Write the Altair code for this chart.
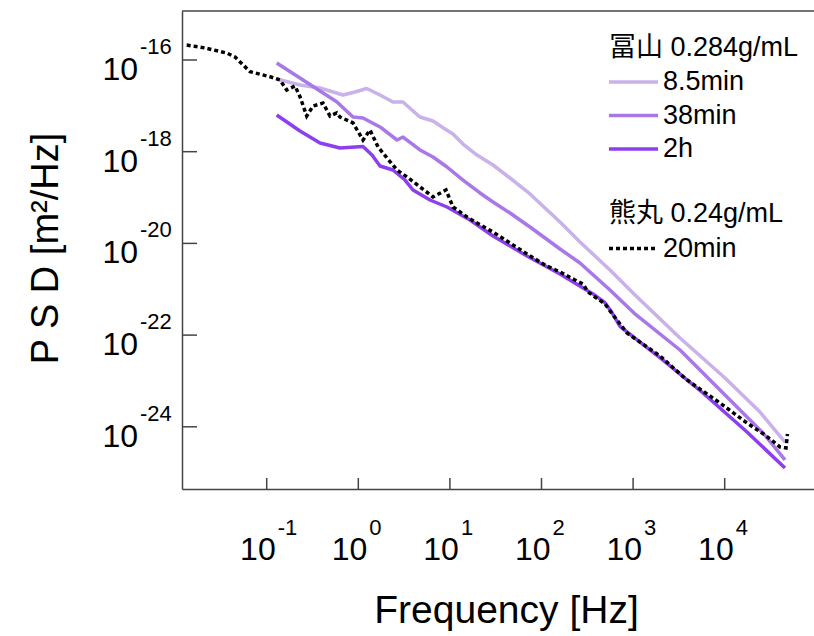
import altair as alt
import pandas as pd

# ---------------- data ----------------
# 冨山 0.284 g/mL
freq_8_5min = [0.1286, 0.2309, 0.382, 0.6808, 0.9204, 1.235, 1.726, 2.392, 3.076, 3.956,
               4.716, 6.541, 8.841, 10.81, 13.9, 19.76, 29.55, 45.31, 74.9, 159.2,
               263.2, 559.4, 1023, 3251, 10080, 24290, 45530]
psd_8_5min = [3.85e-17, 2.85e-17, 2.45e-17, 1.72e-17, 2.00e-17, 2.39e-17, 1.72e-17, 1.21e-17, 1.21e-17, 7.72e-18,
              5.71e-18, 4.67e-18, 3.13e-18, 2.43e-18, 1.47e-18, 8.47e-19, 5.13e-19, 2.67e-19, 1.20e-19, 2.93e-20,
              1.07e-20, 2.63e-21, 7.88e-22, 8.65e-23, 1.16e-23, 2.10e-24, 4.66e-25]

freq_38min = [0.1286, 0.2309, 0.382, 0.5809, 0.8752, 1.125, 1.726, 2.646, 3.076, 4.716,
              6.541, 9.297, 13.9, 21.31, 29.55, 45.31, 74.9, 159.2, 263.2, 559.4,
              1023, 3251, 10080, 26190, 45530]
psd_38min = [8.60e-17, 4.05e-17, 2.11e-17, 1.23e-17, 5.71e-18, 5.43e-18, 3.46e-18, 1.80e-18, 2.09e-18, 1.09e-18,
             7.66e-19, 4.64e-19, 2.41e-19, 1.26e-19, 8.00e-20, 4.60e-20, 2.28e-20, 7.55e-21, 3.74e-21, 9.63e-22,
             3.03e-22, 4.73e-23, 4.94e-24, 7.32e-25, 1.89e-25]

freq_2h = [0.1286, 0.2309, 0.382, 0.6313, 1.125, 1.411, 1.726, 2.392, 3.234, 3.956,
           6.066, 9.297, 16.58, 29.55, 69.44, 159.2, 365, 493.4, 588.3, 719.5,
           2121, 5796, 17520, 45530]
psd_2h = [6.32e-18, 2.83e-18, 1.55e-18, 1.20e-18, 1.30e-18, 8.47e-19, 4.88e-19, 3.99e-19, 2.41e-19, 1.46e-19,
          8.84e-20, 6.22e-20, 3.24e-20, 1.45e-20, 5.31e-21, 2.15e-21, 7.90e-22, 5.10e-22, 3.10e-22, 1.55e-22,
          2.86e-23, 5.46e-24, 7.70e-25, 1.26e-25]

# 熊丸 0.24 g/mL
freq_20min = [0.01338, 0.02121, 0.03659, 0.04507, 0.06573, 0.1086, 0.1397, 0.1653, 0.2037, 0.2309,
              0.2733, 0.3202, 0.4118, 0.4909, 0.5809, 0.6313, 0.8752, 1.125, 1.342, 1.641,
              2.058, 2.646, 3.401, 4.716, 6.541, 9.066, 10.81, 15.37, 19.76, 29.55,
              45.31, 69.44, 109.2, 159.2, 232.1, 283.9, 321.8, 383.8, 493.4, 588.3,
              857.9, 1967, 3877, 8888, 17520, 27540, 40150, 46690, 48480]
psd_20min = [2.12e-16, 1.83e-16, 1.42e-16, 1.16e-16, 5.56e-17, 4.32e-17, 3.66e-17, 2.22e-17, 2.71e-17, 1.58e-17,
             6.00e-18, 9.92e-18, 1.15e-17, 6.00e-18, 6.98e-18, 5.71e-18, 4.23e-18, 1.80e-18, 2.97e-18, 1.27e-18,
             7.29e-19, 3.99e-19, 2.81e-19, 1.70e-19, 1.03e-19, 1.46e-19, 6.22e-20, 3.77e-20, 2.79e-20, 1.77e-20,
             1.02e-20, 5.87e-21, 3.38e-21, 2.38e-21, 1.59e-21, 1.30e-21, 8.71e-22, 6.78e-22, 4.80e-22, 2.95e-22,
             1.11e-22, 3.50e-23, 1.05e-23, 3.30e-24, 1.21e-24, 6.62e-25, 3.63e-25, 3.45e-25, 6.97e-25]

toyama_series = ["8.5min", "38min", "2h"]
toyama_colors = ["#c9b1ea", "#a878e8", "#8d3ef0"]
kumamaru_series = ["20min"]

x_tick_exponents = [-1, 0, 1, 2, 3, 4]
y_tick_exponents = [-16, -18, -20, -22, -24]

# ---------------- layout ----------------
W, H = 632, 478
X_MIN, X_MAX = 0.01189, 94400
Y_MIN, Y_MAX = 4.40e-26, 1.171e-15
FONT = "Liberation Sans, Arial, Noto Sans CJK JP, sans-serif"
AX = "#444444"

toyama = pd.concat([
    pd.DataFrame({"freq": freq_8_5min, "psd": psd_8_5min, "series": "8.5min"}),
    pd.DataFrame({"freq": freq_38min, "psd": psd_38min, "series": "38min"}),
    pd.DataFrame({"freq": freq_2h, "psd": psd_2h, "series": "2h"}),
], ignore_index=True)
kumamaru = pd.DataFrame({"freq": freq_20min, "psd": psd_20min, "sample": "20min"})

xt = pd.DataFrame({"freq": [10.0 ** e for e in x_tick_exponents],
                   "exp": [str(e) for e in x_tick_exponents]})
yt = pd.DataFrame({"psd": [10.0 ** e for e in y_tick_exponents],
                   "exp": [str(e) for e in y_tick_exponents]})

xs = alt.Scale(type="log", domain=[X_MIN, X_MAX], nice=False)
ys = alt.Scale(type="log", domain=[Y_MIN, Y_MAX], nice=False)

xaxis = alt.Axis(title="Frequency [Hz]", labels=False, ticks=False, grid=False,
                 domain=True, domainColor=AX, domainWidth=1.5,
                 titleFont=FONT, titleFontSize=39, titleFontWeight="normal", titleColor="black",
                 titleX=324, titleY=133, titleAlign="center", titleBaseline="alphabetic")
yaxis = alt.Axis(title="P S D [m²/Hz]", labels=False, ticks=False, grid=False,
                 domain=True, domainColor=AX, domainWidth=1.5,
                 titleFont=FONT, titleFontSize=38, titleFontWeight="normal", titleColor="black",
                 titleAngle=270, titleX=-125, titleY=237, titleAlign="center",
                 titleBaseline="alphabetic")

X = lambda: alt.X("freq:Q", scale=xs, axis=xaxis)
Y = lambda: alt.Y("psd:Q", scale=ys, axis=yaxis)

legend_common = dict(
    orient="none", legendX=427, padding=0,
    symbolType="M-2.7,0H7.1", symbolSize=100, symbolStrokeWidth=3.5,
    labelFont=FONT, labelFontSize=27, labelColor="black", labelOffset=27,
    titleFont=FONT, titleFontSize=27, titleFontWeight="normal", titleColor="black",
    titlePadding=7, rowPadding=5.5, titleLimit=400, labelLimit=300,
)

toyama_lines = alt.Chart(toyama).mark_line(strokeWidth=3.5, strokeJoin="round").encode(
    x=X(), y=Y(),
    color=alt.Color("series:N", scale=alt.Scale(domain=toyama_series, range=toyama_colors),
                    legend=alt.Legend(title="冨山 0.284g/mL", legendY=23.5, **legend_common)),
)

kumamaru_line = alt.Chart(kumamaru).mark_line(color="black", strokeWidth=3.5, strokeCap="butt").encode(
    x=X(), y=Y(),
    strokeDash=alt.StrokeDash("sample:N", scale=alt.Scale(domain=kumamaru_series, range=[[4, 3]]),
                              legend=alt.Legend(title="熊丸 0.24g/mL", legendY=190,
                                                symbolStrokeColor="black", **legend_common)),
)

x_ticks = alt.Chart(xt).mark_rule(color=AX, strokeWidth=1.5).encode(
    x=X(), y=alt.value(H), y2=alt.value(H - 11))
y_ticks = alt.Chart(yt).mark_rule(color=AX, strokeWidth=1.5).encode(
    y=Y(), x=alt.value(0), x2=alt.value(15))

x_base = alt.Chart(xt).mark_text(text="10", align="right", baseline="alphabetic", dx=9,
                                 fontSize=32, font=FONT, color="black").encode(
    x=X(), y=alt.value(H + 71))
x_exp = alt.Chart(xt).mark_text(align="left", baseline="alphabetic", dx=11,
                                fontSize=22, font=FONT, color="black").encode(
    x=X(), y=alt.value(H + 46), text="exp:N")
y_base = alt.Chart(yt).mark_text(text="10", align="right", baseline="alphabetic", dy=20,
                                 fontSize=32, font=FONT, color="black").encode(
    y=Y(), x=alt.value(-44))
y_exp = alt.Chart(yt).mark_text(align="left", baseline="alphabetic", dy=-6,
                                fontSize=22, font=FONT, color="black").encode(
    y=Y(), x=alt.value(-42), text="exp:N")

top_line = alt.Chart(pd.DataFrame({"k": [0]})).mark_rule(color=AX, strokeWidth=1.5).encode(
    x=alt.value(0), x2=alt.value(W), y=alt.value(0))

chart = alt.layer(
    x_ticks, y_ticks, toyama_lines, kumamaru_line, x_base, x_exp, y_base, y_exp, top_line
).properties(
    width=W, height=H,
    autosize=alt.AutoSizeParams(type="none"),
    padding={"left": 182, "top": 11, "right": 0, "bottom": 147},
    background="white",
).configure_view(stroke=None)

chart.save("out.html", embed_options={"renderer": "svg", "actions": False})
